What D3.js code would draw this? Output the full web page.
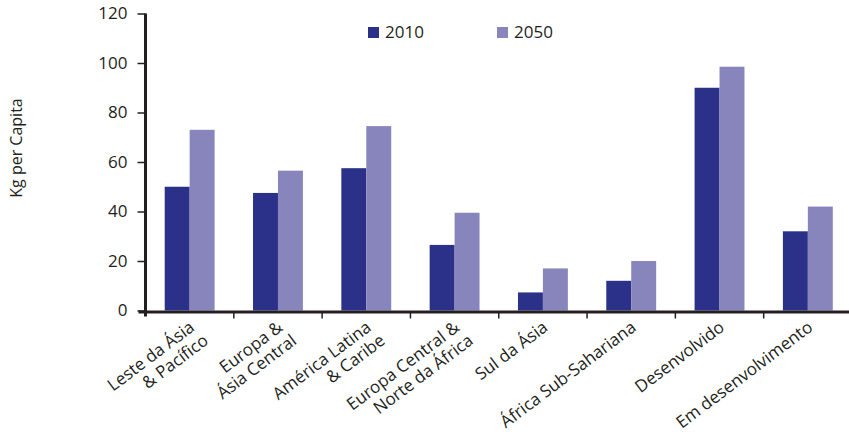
<!DOCTYPE html>
<html>
<head>
<meta charset="utf-8">
<script src="https://cdn.jsdelivr.net/npm/d3@7"></script>
<style>
  html, body { margin: 0; padding: 0; background: #fff; }
  svg { display: block; font-family: "Open Sans", "DejaVu Sans", sans-serif; }
</style>
</head>
<body>
<svg id="chart" width="849" height="436"></svg>
<script>
// Regions (two-line labels are split with "\n")
const categories = [
  "Leste da Ásia\n& Pacífico",
  "Europa &\nÁsia Central",
  "América Latina\n& Caribe",
  "Europa Central &\nNorte da África",
  "Sul da Ásia",
  "África Sub-Sahariana",
  "Desenvolvido",
  "Em desenvolvimento"
];
const seriesNames = ["2010", "2050"];
const values2010 = [50, 47.5, 57.5, 26.5, 7.3, 12, 90, 32];
const values2050 = [73, 56.5, 74.5, 39.5, 17, 20, 98.5, 42];
const yTicks = [0, 20, 40, 60, 80, 100, 120];
const yTitle = "Kg per Capita";

const colors = { "2010": "#2b3189", "2050": "#8885bd" };
const textColor = "#231f20";

const svg = d3.select("#chart");
const plotLeft = 145.5, plotRight = 852, plotTop = 13.5, plotBottom = 310.5;

const y = d3.scaleLinear().domain([0, 120]).range([plotBottom, plotTop]);
const x0 = d3.scaleBand().domain(d3.range(categories.length)).range([plotLeft, plotRight]).padding(0);
const x1 = d3.scaleBand().domain(seriesNames).range([0, x0.step()]).paddingInner(0).paddingOuter(0.77);

const rows = categories.map((c, i) => ({ i, vals: [
  { key: "2010", v: values2010[i] },
  { key: "2050", v: values2050[i] }
]}));

// Bars
const groups = svg.append("g").selectAll("g").data(rows).join("g")
  .attr("transform", d => `translate(${x0(d.i)},0)`);
groups.selectAll("rect").data(d => d.vals).join("rect")
  .attr("x", d => x1(d.key))
  .attr("width", x1.bandwidth())
  .attr("y", d => y(d.v))
  .attr("height", d => y(0) - y(d.v))
  .attr("fill", d => colors[d.key]);

// Y axis
const yAxis = d3.axisLeft(y).tickValues(yTicks).tickSize(8).tickPadding(10).tickSizeOuter(0);
const gy = svg.append("g").attr("transform", `translate(${plotLeft},0)`).call(yAxis);
gy.select(".domain").remove();
gy.selectAll(".tick line").attr("stroke", textColor).attr("stroke-width", 1.5);
gy.selectAll(".tick text").attr("fill", textColor).attr("font-size", 17)
  .attr("font-family", "'Open Sans', sans-serif");
svg.append("line")
  .attr("x1", plotLeft).attr("x2", plotLeft)
  .attr("y1", plotTop).attr("y2", plotBottom + 6)
  .attr("stroke", textColor).attr("stroke-width", 3);

// X axis baseline and category boundary ticks
svg.append("line")
  .attr("x1", plotLeft - 7).attr("x2", 849)
  .attr("y1", plotBottom + 1.5).attr("y2", plotBottom + 1.5)
  .attr("stroke", textColor).attr("stroke-width", 3);
svg.append("g").selectAll("line").data(d3.range(1, categories.length)).join("line")
  .attr("x1", d => x0(d)).attr("x2", d => x0(d))
  .attr("y1", plotBottom + 1.5).attr("y2", plotBottom + 8)
  .attr("stroke", textColor).attr("stroke-width", 1.5);

// Category labels, rotated
const labels = svg.append("g").selectAll("text").data(categories).join("text")
  .attr("transform", (d, i) => `translate(${x0(i) + x0.bandwidth() / 2 + 6},${plotBottom + 19}) rotate(-37)`)
  .attr("text-anchor", "end")
  .attr("font-size", 17)
  .attr("fill", textColor);
labels.each(function(d) {
  const lines = d.split("\n");
  d3.select(this).selectAll("tspan").data(lines).join("tspan")
    .attr("x", (l, j) => j === 0 ? 0 : 3)
    .attr("dy", (l, j) => j === 0 ? 0 : 19)
    .text(l => l);
});

// Y title
svg.append("text")
  .attr("transform", `translate(22,148) rotate(-90)`)
  .attr("text-anchor", "middle")
  .attr("font-size", 16)
  .attr("fill", textColor)
  .text(yTitle);

// Legend
const legend = svg.append("g").selectAll("g").data(seriesNames).join("g")
  .attr("transform", (d, i) => `translate(${368 + i * 129},27)`);
legend.append("rect").attr("width", 11).attr("height", 11).attr("fill", d => colors[d]);
legend.append("text").attr("x", 17).attr("y", 11)
  .attr("font-size", 17).attr("fill", textColor).text(d => d);
</script>
</body>
</html>
